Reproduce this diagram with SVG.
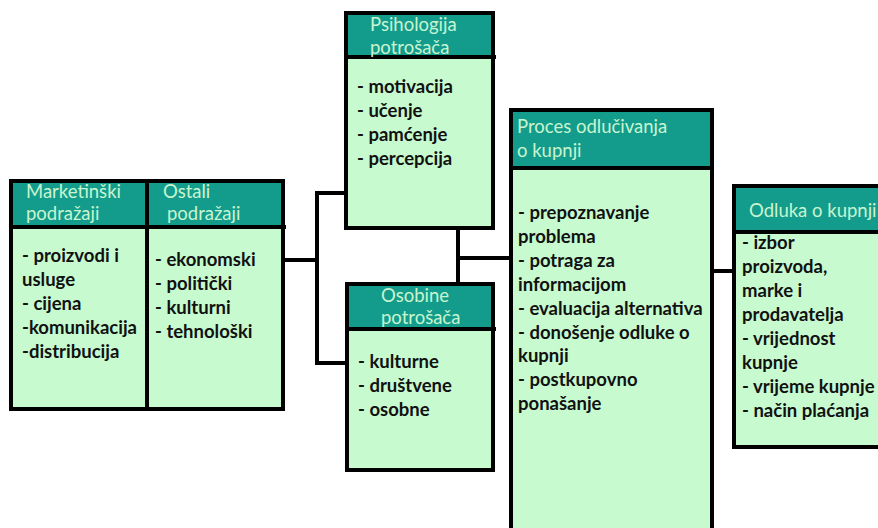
<svg xmlns="http://www.w3.org/2000/svg" width="878" height="528" viewBox="0 0 878 528">
<style>
.body{fill:#C8FACF;stroke:#000;stroke-width:4}
.head{fill:#139C8C;stroke:#000;stroke-width:4}
.ht{font-family:Lato,"Open Sans",sans-serif;font-size:18.5px;fill:#C8F5CF}
.bt{font-family:Lato,"Open Sans",sans-serif;font-size:18.5px;font-weight:bold;fill:#111}
.conn{fill:none;stroke:#000;stroke-width:4}
</style>
<rect width="878" height="528" fill="#fff"/>
<g id="connectors">
<polyline class="conn" points="284,260 317,260"/>
<polyline class="conn" points="347,193 317,193 317,363 349,363"/>
<polyline class="conn" points="458,228 458,289"/>
<polyline class="conn" points="458,258 511,258"/>
<polyline class="conn" points="712,271 735,271"/>
</g>
<g id="marketinski">
<rect class="body" x="11" y="181" width="136" height="228"/>
<rect class="head" x="11" y="181" width="136" height="46"/>
<text class="ht" x="26" y="198">Marketinški</text>
<text class="ht" x="26" y="220">podražaji</text>
<text class="bt" x="22" y="262">- proizvodi i</text>
<text class="bt" x="22" y="286">usluge</text>
<text class="bt" x="22" y="310">- cijena</text>
<text class="bt" x="22" y="334">-komunikacija</text>
<text class="bt" x="22" y="358">-distribucija</text>
</g>
<g id="ostali">
<rect class="body" x="147" y="181" width="136" height="228"/>
<rect class="head" x="147" y="181" width="136" height="46"/>
<line x1="283" y1="227" x2="286" y2="227" stroke="#000" stroke-width="4"/>
<text class="ht" x="163" y="198">Ostali</text>
<text class="ht" x="167" y="220">podražaji</text>
<text class="bt" x="155" y="266">- ekonomski</text>
<text class="bt" x="155" y="290">- politički</text>
<text class="bt" x="155" y="314">- kulturni</text>
<text class="bt" x="155" y="338">- tehnološki</text>
</g>
<g id="psihologija">
<rect class="body" x="346" y="13" width="147" height="215"/>
<rect class="head" x="346" y="13" width="147" height="44"/>
<line x1="493" y1="57" x2="496" y2="57" stroke="#000" stroke-width="4"/>
<text class="ht" x="370" y="31">Psihologija</text>
<text class="ht" x="370" y="54">potrošača</text>
<text class="bt" x="357" y="93">- motivacija</text>
<text class="bt" x="357" y="117">- učenje</text>
<text class="bt" x="357" y="141">- pamćenje</text>
<text class="bt" x="357" y="165">- percepcija</text>
</g>
<g id="osobine">
<rect class="body" x="347" y="284" width="146" height="186"/>
<rect class="head" x="347" y="284" width="146" height="45"/>
<line x1="493" y1="329" x2="496" y2="329" stroke="#000" stroke-width="4"/>
<text class="ht" x="381" y="302">Osobine</text>
<text class="ht" x="381" y="324">potrošača</text>
<text class="bt" x="358" y="368">- kulturne</text>
<text class="bt" x="358" y="392">- društvene</text>
<text class="bt" x="358" y="416">- osobne</text>
</g>
<g id="proces">
<rect class="body" x="511" y="110" width="201" height="440"/>
<rect class="head" x="511" y="110" width="201" height="58"/>
<text class="ht" x="517" y="133">Proces odlučivanja</text>
<text class="ht" x="517" y="157">o kupnji</text>
<text class="bt" x="518" y="219">- prepoznavanje</text>
<text class="bt" x="518" y="243">problema</text>
<text class="bt" x="518" y="267">- potraga za</text>
<text class="bt" x="518" y="291">informacijom</text>
<text class="bt" x="518" y="315">- evaluacija alternativa</text>
<text class="bt" x="518" y="339">- donošenje odluke o</text>
<text class="bt" x="518" y="362">kupnji</text>
<text class="bt" x="518" y="386">- postkupovno</text>
<text class="bt" x="518" y="410">ponašanje</text>
</g>
<g id="odluka">
<rect class="body" x="734" y="186" width="160" height="261"/>
<rect class="head" x="734" y="186" width="160" height="46"/>
<text class="ht" x="749" y="217">Odluka o kupnji</text>
<text class="bt" x="742" y="249">- izbor</text>
<text class="bt" x="742" y="273">proizvoda,</text>
<text class="bt" x="742" y="297">marke i</text>
<text class="bt" x="742" y="321">prodavatelja</text>
<text class="bt" x="742" y="345">- vrijednost</text>
<text class="bt" x="742" y="369">kupnje</text>
<text class="bt" x="742" y="393">- vrijeme kupnje</text>
<text class="bt" x="742" y="417">- način plaćanja</text>
</g>
</svg>
